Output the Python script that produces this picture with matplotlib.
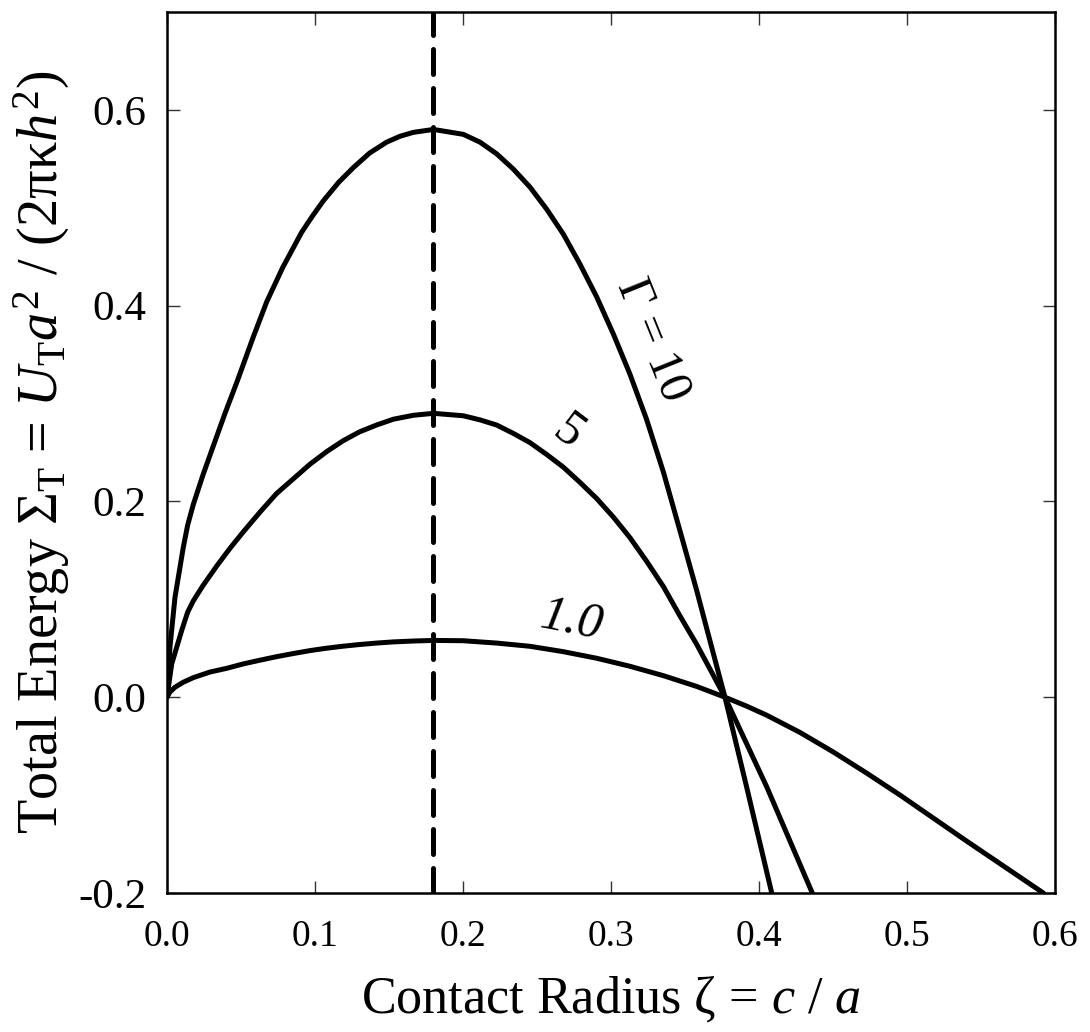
import numpy as np
import matplotlib
matplotlib.use("Agg")
import matplotlib.pyplot as plt

plt.rcParams['font.family'] = ['Liberation Serif', 'DejaVu Serif']
plt.rcParams['mathtext.fontset'] = 'custom'
plt.rcParams['mathtext.rm'] = 'Liberation Serif'
plt.rcParams['mathtext.it'] = 'Liberation Serif:italic'
plt.rcParams['mathtext.bf'] = 'Liberation Serif:bold'

# 曲線データ
zeta_g10 = [0.0, 0.002, 0.0054, 0.011, 0.014, 0.0178, 0.0243, 0.0309, 0.0392, 0.0475,
            0.0583, 0.0674, 0.0782, 0.091, 0.0985, 0.1056, 0.116, 0.1259, 0.137, 0.1484,
            0.1574, 0.1664, 0.1755, 0.180, 0.2002, 0.2115, 0.2228, 0.234, 0.2453, 0.2565,
            0.2678, 0.279, 0.2903, 0.3016, 0.3128, 0.324, 0.3354, 0.3466, 0.3579, 0.3675,
            0.377, 0.3916, 0.4086]
sigma_g10 = [0.0, 0.051, 0.102, 0.153, 0.176, 0.197, 0.227, 0.255, 0.290, 0.323,
             0.368, 0.404, 0.439, 0.475, 0.492, 0.507, 0.526, 0.541, 0.556, 0.567,
             0.573, 0.577, 0.579, 0.580, 0.575, 0.567, 0.555, 0.5395, 0.521, 0.4986,
             0.473, 0.4425, 0.409, 0.371, 0.330, 0.284, 0.230, 0.170, 0.109, 0.054,
             0.0, -0.0915, -0.2]

zeta_g5 = [0.0, 0.0032, 0.0099, 0.014, 0.0178, 0.0243, 0.0336, 0.0425, 0.0516, 0.0628,
           0.074, 0.0853, 0.0966, 0.108, 0.119, 0.130, 0.1415, 0.153, 0.1665, 0.180,
           0.2002, 0.2115, 0.2228, 0.234, 0.2453, 0.2565, 0.2678, 0.279, 0.2903, 0.3016,
           0.3128, 0.324, 0.3354, 0.3466, 0.3579, 0.3675, 0.377, 0.4052, 0.436]
sigma_g5 = [0.0, 0.034, 0.068, 0.087, 0.0985, 0.114, 0.134, 0.152, 0.169, 0.189,
            0.208, 0.223, 0.238, 0.251, 0.262, 0.271, 0.278, 0.284, 0.288, 0.290,
            0.2875, 0.2833, 0.278, 0.2695, 0.260, 0.248, 0.235, 0.2195, 0.203, 0.184,
            0.163, 0.139, 0.113, 0.083, 0.054, 0.027, 0.0, -0.0915, -0.2]

zeta_g1 = [0.0, 0.002, 0.0054, 0.011, 0.0178, 0.0290, 0.0403, 0.0515, 0.0628, 0.074,
           0.0853, 0.0966, 0.108, 0.119, 0.130, 0.1415, 0.153, 0.1665, 0.180, 0.2002,
           0.2228, 0.2453, 0.2678, 0.2903, 0.3128, 0.3354, 0.3579, 0.377, 0.3916, 0.4052,
           0.4277, 0.450, 0.4727, 0.4953, 0.5178, 0.5403, 0.5628, 0.5921]
sigma_g1 = [0.0, 0.0053, 0.0102, 0.0153, 0.0200, 0.0257, 0.0295, 0.0340, 0.0378, 0.0414,
            0.0446, 0.0476, 0.0501, 0.0521, 0.0538, 0.0553, 0.0565, 0.0574, 0.0580, 0.0577,
            0.0553, 0.0520, 0.0465, 0.0398, 0.0316, 0.0220, 0.0110, 0.0, -0.0091, -0.0184,
            -0.0360, -0.0558, -0.0775, -0.100, -0.1235, -0.1470, -0.1700, -0.2]

zeta_min = 0.18  # 破線の位置

x_ticks = [0.0, 0.1, 0.2, 0.3, 0.4, 0.5, 0.6]
y_ticks = [-0.2, 0.0, 0.2, 0.4, 0.6]

fig = plt.figure(figsize=(10.9, 10.32), dpi=100)
ax = fig.add_axes([0.1532, 0.1347, 0.8147, 0.8537])

lw = 3.6
for z, s in [(zeta_g10, sigma_g10), (zeta_g5, sigma_g5), (zeta_g1, sigma_g1)]:
    ax.plot(z, s, color='black', lw=lw, solid_joinstyle='round', solid_capstyle='round')
ax.axvline(zeta_min, color='black', lw=lw, dashes=(5.0, 2.8), dash_capstyle='round')

# 曲線ラベル
ax.text(0.3275, 0.366, r'$\Gamma$ = 10', fontsize=35, rotation=-68,
        ha='center', va='center')
ax.text(0.2715, 0.271, '5', fontsize=36, rotation=-37, ha='center', va='center')
ax.text(0.2735, 0.0785, '1.0', fontsize=36, style='italic', rotation=-11,
        ha='center', va='center')

ax.set_xlim(0.0, 0.6)
ax.set_ylim(-0.2, 0.7)
ax.set_xticks(x_ticks)
ax.set_yticks(y_ticks)
ax.set_xticklabels(['%.1f' % v for v in x_ticks])
ax.set_yticklabels(['%.1f' % v for v in y_ticks])

ax.tick_params(direction='in', top=True, right=True, length=9, width=1.0,
               color='#333333')
ax.tick_params(axis='x', pad=19, labelsize=27)
ax.tick_params(axis='y', pad=15, labelsize=31)
for sp in ax.spines.values():
    sp.set_linewidth(1.8)

ax.set_xlabel(r'Contact Radius $\mathrm{\zeta}$ = $c$ / $a$', fontsize=37.5, labelpad=14)
ax.set_ylabel(r'Total Energy $\mathrm{\Sigma}_{\mathrm{T}}$ = $U_{\mathrm{T}}a^{2}$ / '
              r'(2$\mathrm{\pi\kappa}h^{2}$)', fontsize=40.5, labelpad=4)

fig.savefig('out.png', dpi=100)
